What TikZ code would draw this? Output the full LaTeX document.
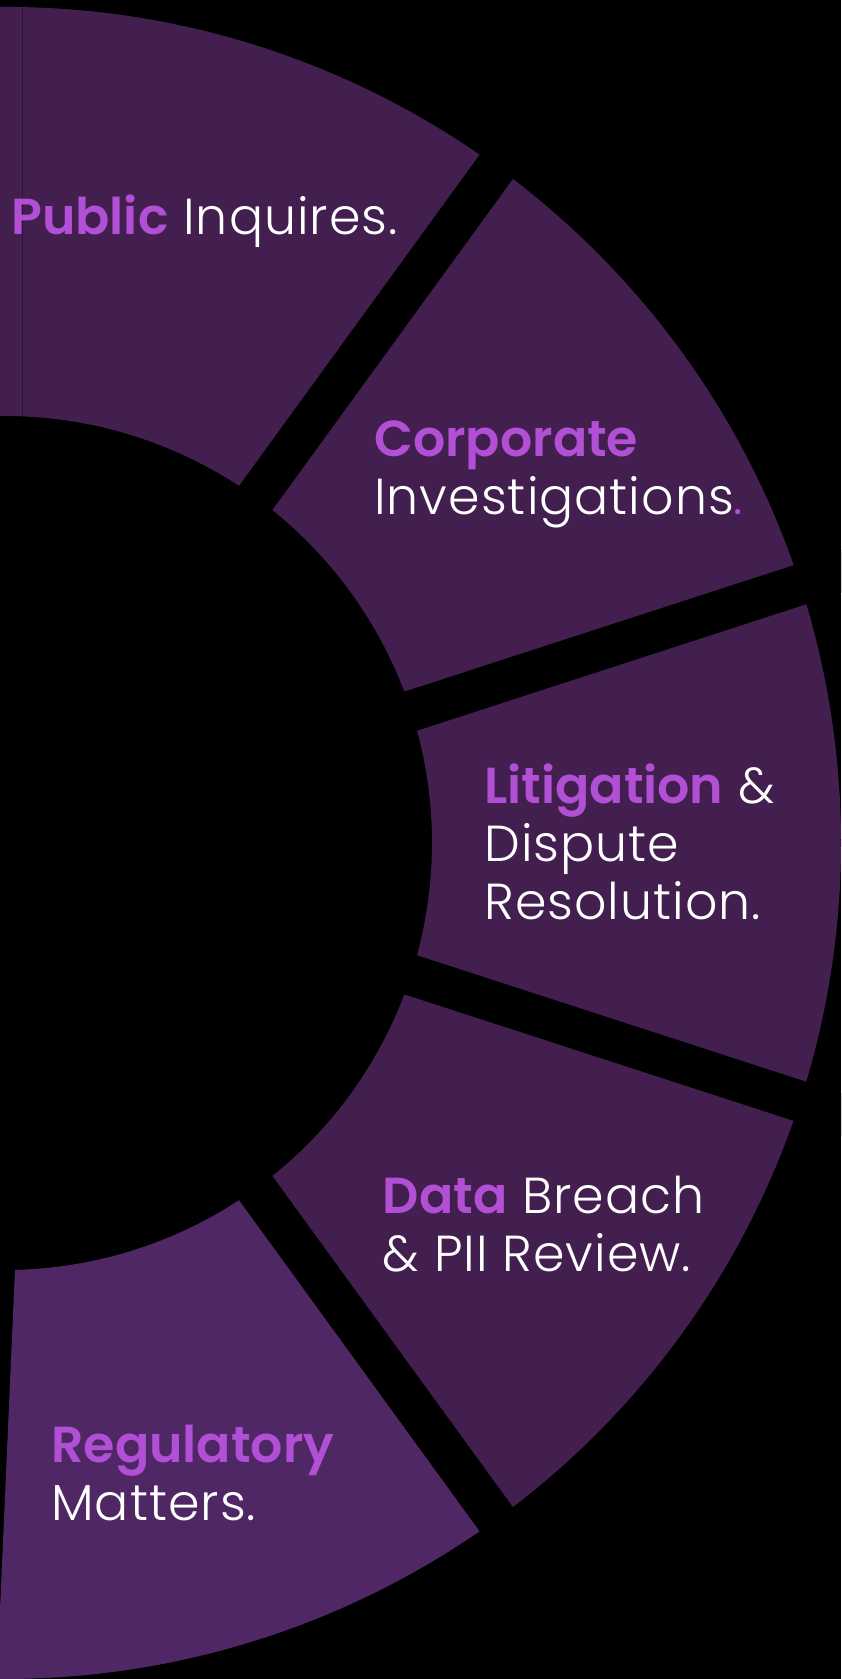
\documentclass[tikz,border=0pt]{standalone}
\usepackage{fontspec}
\setmainfont{Poppins}[UprightFont=* Light, BoldFont=* SemiBold, UprightFeatures={LetterSpace=2}]
\definecolor{segcol}{HTML}{431F50}
\definecolor{regcol}{HTML}{502765}
\definecolor{segline}{HTML}{2E1538}
\definecolor{hilite}{HTML}{B150D5}
\tikzset{
  lbl/.style={anchor=base west, align=left, text=white, inner sep=0pt,
    font=\fontsize{25.3}{29}\selectfont},
  gap/.style={black, line width=20.5pt}
}
\newcommand{\hl}[1]{\textcolor{hilite}{\bfseries #1}}
\begin{document}
\begin{tikzpicture}[x=0.5pt,y=0.5pt]
	\fill[black] (-5,-836) rectangle (836,843);
	\clip (-5,-836) rectangle (836,843);
	\fill[segcol] (95:836) arc (95:-54:836) -- (-54:427) arc (-54:95:427) -- cycle;
	\fill[regcol] (-88.66:427) arc (-88.66:-54:427) -- (-54:836) arc (-54:-90.55:836) -- cycle;
	\draw[segline, line width=0.5pt] (17,835) -- (17,427);
	\foreach \a in {54,18,-18,-54}
	    \draw[gap] (0,0) -- (\a:900);
	\node[lbl] (pub) at (6,608) {\hl{Public} Inquires.};
	\node[lbl] (corp) at (369,328) {\hl{Corporate}\\Investigations\textcolor{hilite}{.}};
	\node[lbl] (lit) at (479,-76.3) {\hl{Litigation} \&\\Dispute\\Resolution.};
	\node[lbl] (data) at (377.5,-428.6) {\hl{Data} Breach\\\& PII Review.};
	\node[lbl] (reg) at (46,-677) {\hl{Regulatory}\\Matters.};
\end{tikzpicture}
\end{document}
